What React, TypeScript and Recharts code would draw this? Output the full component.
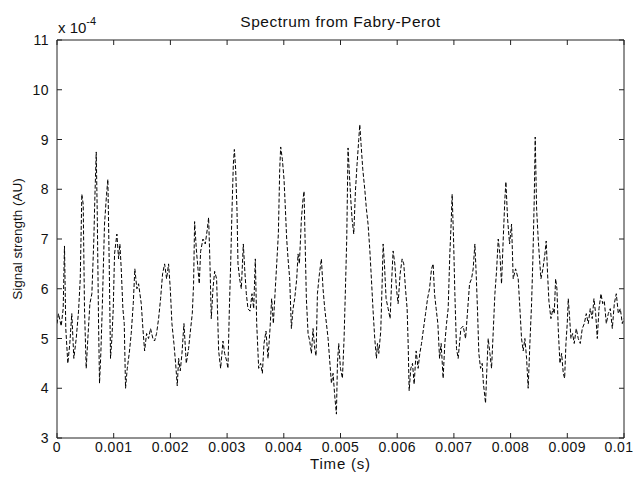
import { LineChart, Line, XAxis, YAxis } from "recharts";

// sample times in ms
const timeMs = [
  0, 0.026, 0.074, 0.109, 0.132, 0.155, 0.191, 0.226, 0.261, 0.297, 0.339, 0.38, 0.41, 0.438, 0.462, 0.485,
  0.515, 0.544, 0.58, 0.615, 0.65, 0.667, 0.692, 0.71, 0.733, 0.75, 0.773, 0.798, 0.838, 0.874, 0.897, 0.921,
  0.944, 0.968, 0.992, 1.015, 1.056, 1.086, 1.109, 1.133, 1.162, 1.186, 1.209, 1.239, 1.274, 1.309, 1.345, 1.373,
  1.409, 1.439, 1.486, 1.515, 1.545, 1.58, 1.615, 1.65, 1.691, 1.721, 1.756, 1.792, 1.827, 1.862, 1.898, 1.933,
  1.968, 1.998, 2.027, 2.062, 2.092, 2.121, 2.145, 2.174, 2.204, 2.239, 2.28, 2.321, 2.357, 2.386, 2.409, 2.427,
  2.457, 2.486, 2.509, 2.533, 2.574, 2.615, 2.651, 2.674, 2.698, 2.721, 2.751, 2.78, 2.815, 2.851, 2.886, 2.927,
  2.957, 2.992, 3.015, 3.04, 3.063, 3.086, 3.11, 3.128, 3.151, 3.174, 3.192, 3.221, 3.251, 3.286, 3.31, 3.339,
  3.368, 3.404, 3.439, 3.469, 3.498, 3.522, 3.557, 3.592, 3.622, 3.651, 3.686, 3.722, 3.757, 3.786, 3.816, 3.845,
  3.875, 3.904, 3.928, 3.945, 3.975, 4.004, 4.028, 4.051, 4.075, 4.104, 4.134, 4.163, 4.192, 4.228, 4.251, 4.275,
  4.31, 4.339, 4.357, 4.375, 4.398, 4.428, 4.457, 4.487, 4.516, 4.545, 4.569, 4.593, 4.628, 4.663, 4.692, 4.722,
  4.752, 4.781, 4.81, 4.84, 4.869, 4.898, 4.928, 4.946, 4.969, 4.999, 5.034, 5.063, 5.087, 5.11, 5.133, 5.157,
  5.181, 5.204, 5.234, 5.263, 5.292, 5.322, 5.34, 5.363, 5.393, 5.428, 5.457, 5.486, 5.516, 5.545, 5.575, 5.604,
  5.634, 5.652, 5.675, 5.71, 5.734, 5.752, 5.775, 5.804, 5.84, 5.875, 5.904, 5.928, 5.958, 5.987, 6.016, 6.052,
  6.087, 6.116, 6.146, 6.175, 6.193, 6.211, 6.24, 6.27, 6.299, 6.334, 6.369, 6.399, 6.429, 6.464, 6.5, 6.535,
  6.57, 6.605, 6.634, 6.658, 6.687, 6.717, 6.747, 6.775, 6.81, 6.84, 6.87, 6.899, 6.928, 6.951, 6.969, 6.994,
  7.017, 7.046, 7.075, 7.123, 7.163, 7.206, 7.241, 7.276, 7.311, 7.34, 7.37, 7.393, 7.417, 7.44, 7.47, 7.499,
  7.52, 7.558, 7.582, 7.605, 7.635, 7.664, 7.694, 7.723, 7.752, 7.782, 7.811, 7.84, 7.87, 7.899, 7.917, 7.947,
  7.982, 8.017, 8.046, 8.088, 8.134, 8.164, 8.193, 8.222, 8.252, 8.282, 8.31, 8.34, 8.37, 8.393, 8.417, 8.434,
  8.459, 8.487, 8.51, 8.535, 8.57, 8.605, 8.628, 8.652, 8.676, 8.711, 8.747, 8.77, 8.794, 8.817, 8.84, 8.87,
  8.9, 8.929, 8.953, 8.976, 8.999, 9.017, 9.042, 9.064, 9.094, 9.122, 9.158, 9.193, 9.229, 9.264, 9.3, 9.335,
  9.37, 9.405, 9.44, 9.47, 9.5, 9.529, 9.559, 9.594, 9.624, 9.653, 9.688, 9.723, 9.758, 9.794, 9.829, 9.864,
  9.9, 9.935, 9.97, 10,
];

// signal strength in units of 1e-4
const signal = [
  5.3, 5.5, 5.25, 5.6, 6.86, 5.2, 4.5, 4.9, 5.5, 4.6, 5.0, 5.55, 6.2, 7.9, 7.7, 5.6,
  4.4, 5.0, 5.7, 5.9, 7.0, 7.8, 8.75, 7.5, 5.3, 4.1, 4.7, 5.6, 7.3, 7.9, 8.2, 6.5,
  4.6, 5.0, 5.6, 6.7, 7.1, 6.6, 6.9, 6.4, 5.6, 5.3, 4.0, 4.4, 4.7, 5.1, 5.7, 6.4,
  6.0, 6.1, 5.7, 5.2, 4.75, 5.1, 5.0, 5.2, 5.0, 4.95, 5.1, 5.4, 5.8, 6.3, 6.5, 6.2,
  6.5, 6.0, 5.3, 4.9, 4.5, 4.05, 4.6, 4.35, 4.7, 5.3, 4.5, 4.8, 5.2, 5.5, 6.1, 7.35,
  6.8, 6.4, 6.1, 6.75, 7.0, 6.9, 7.2, 7.43, 6.5, 5.4, 6.0, 6.35, 6.2, 4.75, 4.4, 4.95,
  4.7, 4.55, 4.4, 5.6, 6.5, 7.56, 8.5, 8.8, 8.4, 7.6, 6.5, 6.2, 6.0, 6.9, 6.4, 5.9,
  5.6, 5.55, 5.9, 5.6, 6.6, 5.3, 4.4, 4.5, 4.3, 4.9, 5.15, 4.6, 5.2, 5.8, 5.3, 5.9,
  6.5, 7.1, 8.4, 8.85, 8.6, 8.2, 7.6, 7.0, 6.6, 6.2, 5.2, 5.6, 5.8, 6.2, 6.7, 6.5,
  7.4, 7.8, 7.96, 7.0, 5.8, 5.1, 4.95, 4.7, 5.2, 4.8, 4.65, 5.9, 6.3, 6.6, 6.0, 5.6,
  5.3, 5.0, 4.55, 4.1, 4.3, 3.85, 3.48, 4.5, 4.9, 4.4, 4.2, 5.0, 6.0, 7.0, 8.83, 8.3,
  7.8, 7.4, 7.1, 7.96, 8.5, 9.0, 9.3, 8.9, 8.4, 8.0, 7.6, 7.3, 6.8, 6.2, 5.55, 5.0,
  4.6, 4.9, 4.7, 5.15, 6.1, 6.9, 6.5, 5.8, 5.6, 5.4, 6.2, 6.76, 6.5, 6.0, 5.7, 6.3,
  6.6, 6.5, 6.0, 5.6, 4.9, 3.95, 4.4, 4.5, 4.08, 4.75, 4.4, 4.7, 4.9, 5.2, 5.5, 5.8,
  6.0, 6.4, 6.5, 5.9, 5.6, 5.3, 4.6, 4.9, 4.2, 4.9, 5.3, 5.6, 6.7, 7.3, 7.9, 7.0,
  5.9, 4.8, 4.6, 5.2, 5.25, 5.0, 5.55, 6.1, 6.2, 6.4, 6.9, 6.3, 5.55, 4.7, 4.4, 4.5,
  4.1, 3.7, 4.4, 5.0, 4.7, 4.4, 5.15, 5.9, 6.35, 7.0, 6.7, 6.1, 7.0, 7.8, 8.15, 7.4,
  6.9, 7.3, 6.2, 6.4, 6.2, 5.6, 5.0, 4.75, 5.0, 4.6, 4.0, 4.9, 5.7, 6.6, 7.8, 9.05,
  7.6, 7.0, 6.6, 6.2, 6.4, 6.7, 6.96, 6.3, 5.75, 5.4, 5.6, 5.5, 6.2, 6.0, 5.2, 4.5,
  4.7, 4.3, 4.2, 4.9, 5.3, 5.8, 5.4, 5.0, 5.1, 4.9, 5.2, 5.0, 4.9, 5.2, 5.3, 5.5,
  5.3, 5.6, 5.4, 5.8, 5.5, 5.0, 5.6, 5.9, 5.7, 5.75, 5.3, 5.5, 5.6, 5.2, 5.7, 5.9,
  5.5, 5.6, 5.3, 5.4,
];

const xTicks = [0, 0.001, 0.002, 0.003, 0.004, 0.005, 0.006, 0.007, 0.008, 0.009, 0.01];
const yTicks = [3, 4, 5, 6, 7, 8, 9, 10, 11];

const data = timeMs.map((t, i) => ({ t: t / 1000, v: signal[i] }));

const font = "'Liberation Sans', Arial, sans-serif";
const ink = "#111";
const axisColor = "#222";
const TICK = 5;
const X_GAP = 9;
const Y_GAP = 8;

const fmtX = (v: number) => String(Number(v.toFixed(3)));

// MATLAB style: tick marks point into the plot box
function BottomTick({ x, y, payload, index, visibleTicksCount }: any) {
  const last = index === visibleTicksCount - 1;
  const axisY = y - X_GAP;
  return (
    <g>
      <line x1={x} x2={x} y1={axisY} y2={axisY - TICK} stroke={axisColor} />
      <text
        x={last ? x - 5 : x}
        y={y}
        dy={5}
        textAnchor="middle"
        fill={ink}
        fontSize={14}
        letterSpacing={0.5}
        fontFamily={font}
      >
        {fmtX(payload.value)}
      </text>
    </g>
  );
}

function LeftTick({ x, y, payload }: any) {
  const axisX = x + Y_GAP;
  return (
    <g>
      <line x1={axisX} x2={axisX + TICK} y1={y} y2={y} stroke={axisColor} />
      <text
        x={x}
        y={y}
        dy="0.36em"
        textAnchor="end"
        fill={ink}
        fontSize={14}
        letterSpacing={0.5}
        fontFamily={font}
      >
        {payload.value}
      </text>
    </g>
  );
}

function TopTick({ x, y }: any) {
  return <line x1={x} x2={x} y1={y} y2={y + TICK} stroke={axisColor} />;
}

function RightTick({ x, y }: any) {
  return <line x1={x} x2={x - TICK} y1={y} y2={y} stroke={axisColor} />;
}

export default function App() {
  return (
    <div
      style={{
        position: "absolute",
        left: 0,
        top: 0,
        width: 637,
        height: 477,
        background: "#fff",
        fontFamily: font,
        color: ink,
      }}
    >
      <div
        style={{
          position: "absolute",
          left: 0,
          width: 681,
          top: 13,
          textAlign: "center",
          fontSize: 15.5,
          letterSpacing: 0.5,
        }}
      >
        Spectrum from Fabry-Perot
      </div>
      <div style={{ position: "absolute", left: 58, top: 17, fontSize: 15 }}>
        x 10<sup style={{ fontSize: 11, position: "relative", top: -2 }}>-4</sup>
      </div>
      <LineChart
        width={637}
        height={477}
        data={data}
        margin={{ top: 39, right: 12, bottom: 0, left: 0 }}
      >
        <XAxis
          dataKey="t"
          type="number"
          domain={[0, 0.01]}
          ticks={xTicks}
          interval={0}
          height={39}
          tickSize={0}
          tickLine={false}
          tickMargin={X_GAP}
          tick={<BottomTick />}
          stroke={axisColor}
          allowDataOverflow
          label={{
            value: "Time (s)",
            position: "insideBottom",
            offset: 8,
            style: { fill: ink, fontSize: 15, letterSpacing: 0.8, fontFamily: font },
          }}
        />
        <XAxis
          xAxisId="top"
          dataKey="t"
          type="number"
          orientation="top"
          domain={[0, 0.01]}
          ticks={xTicks}
          interval={0}
          height={1}
          tickSize={0}
          tickLine={false}
          tickMargin={0}
          tick={<TopTick />}
          stroke={axisColor}
          allowDataOverflow
        />
        <YAxis
          dataKey="v"
          type="number"
          domain={[3, 11]}
          ticks={yTicks}
          interval={0}
          width={57}
          tickSize={0}
          tickLine={false}
          tickMargin={Y_GAP}
          tick={<LeftTick />}
          stroke={axisColor}
          allowDataOverflow
          label={{
            value: "Signal strength (AU)",
            angle: -90,
            position: "insideLeft",
            offset: 17,
            style: { textAnchor: "middle", fill: ink, fontSize: 13.5, fontFamily: font },
          }}
        />
        <YAxis
          yAxisId="right"
          dataKey="v"
          type="number"
          orientation="right"
          domain={[3, 11]}
          ticks={yTicks}
          interval={0}
          width={1}
          tickSize={0}
          tickLine={false}
          tickMargin={0}
          tick={<RightTick />}
          stroke={axisColor}
          allowDataOverflow
        />
        <Line
          type="linear"
          dataKey="v"
          stroke="#000"
          strokeWidth={1}
          strokeDasharray="4 2"
          dot={false}
          isAnimationActive={false}
        />
      </LineChart>
    </div>
  );
}
